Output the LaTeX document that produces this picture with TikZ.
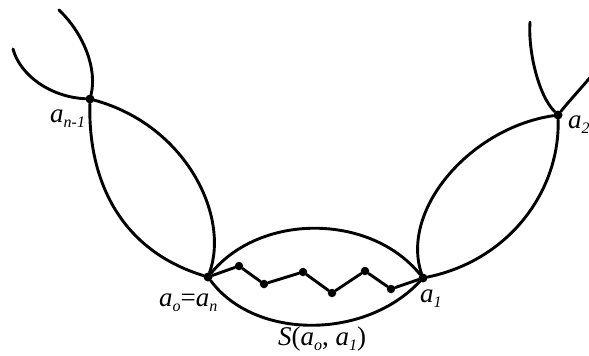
\documentclass[tikz,border=0pt]{standalone}
\usepackage{fontspec}
\setmainfont{Liberation Serif}
\usetikzlibrary{positioning}

\newcommand{\vname}[2]{\textit{#1}\raisebox{-5pt}{\fontsize{16}{16}\selectfont\textit{#2}}}

\begin{document}
\begin{tikzpicture}[
  x=1pt, y=-1pt,
  edge/.style={line width=2.9pt, line cap=round},
  vtx/.style={circle, fill=black, inner sep=0pt, minimum size=9pt},
  mid/.style={circle, fill=black, inner sep=0pt, minimum size=8.5pt},
  lbl/.style={anchor=base west, inner sep=0pt, font=\fontsize{27}{29}\selectfont}
]
  \useasboundingbox (0,0) rectangle (589,356);

  % the four named vertices
  \node[vtx] (an1) at (90,99) {};
  \node[vtx] (a0) at (208,277) {};
  \node[vtx] (a1) at (423,278) {};
  \node[vtx] (a2) at (558,115) {};

  % loose ends
  \coordinate (l1) at (13,49);
  \coordinate (l2) at (59,10);
  \coordinate (r1) at (530,22);
  \coordinate (r2) at (598,68);

  % path inside S(a_o, a_1)
  \node[mid] (z1) at (239,266) {};
  \node[mid] (z2) at (264,284) {};
  \node[mid] (z3) at (303,272) {};
  \node[mid] (z4) at (332,293) {};
  \node[mid] (z5) at (365,271) {};
  \node[mid] (z6) at (391,289) {};

  % left lens
  \draw[edge] (an1) .. controls (50,97) and (20,75) .. (l1);
  \draw[edge] (an1) .. controls (97,70) and (85,35) .. (l2);
  \draw[edge] (an1) .. controls (88,180) and (120,250) .. (a0);
  \draw[edge] (an1) .. controls (185,125) and (230,215) .. (a0);

  % middle lens
  \draw[edge] (a0) .. controls (260,213) and (370,213) .. (a1);
  \draw[edge] (a0) .. controls (255,340) and (365,340) .. (a1);
  \draw[edge] (a0) -- (z1) -- (z2) -- (z3) -- (z4) -- (z5) -- (z6) -- (a1);

  % right lens
  \draw[edge] (a2) .. controls (470,128) and (400,210) .. (a1);
  \draw[edge] (a2) .. controls (560,190) and (510,260) .. (a1);
  \draw[edge] (a2) .. controls (538,95) and (528,50) .. (r1);
  \draw[edge] (a2) .. controls (570,100) and (585,84) .. (r2);

  % labels
  \node[lbl] (t-an1) at (50,122) {\vname{a}{n-1}};
  \node[lbl] (t-a0) at (159,306) {\vname{a}{o}=\vname{a}{n}};
  \node[lbl] (t-a1) at (420,302) {\vname{a}{1}};
  \node[lbl] (t-a2) at (568,128) {\vname{a}{2}};
  \node[lbl] (t-s) at (278,345) {\textit{S}(\vname{a}{o}, \vname{a}{1})};
\end{tikzpicture}
\end{document}
